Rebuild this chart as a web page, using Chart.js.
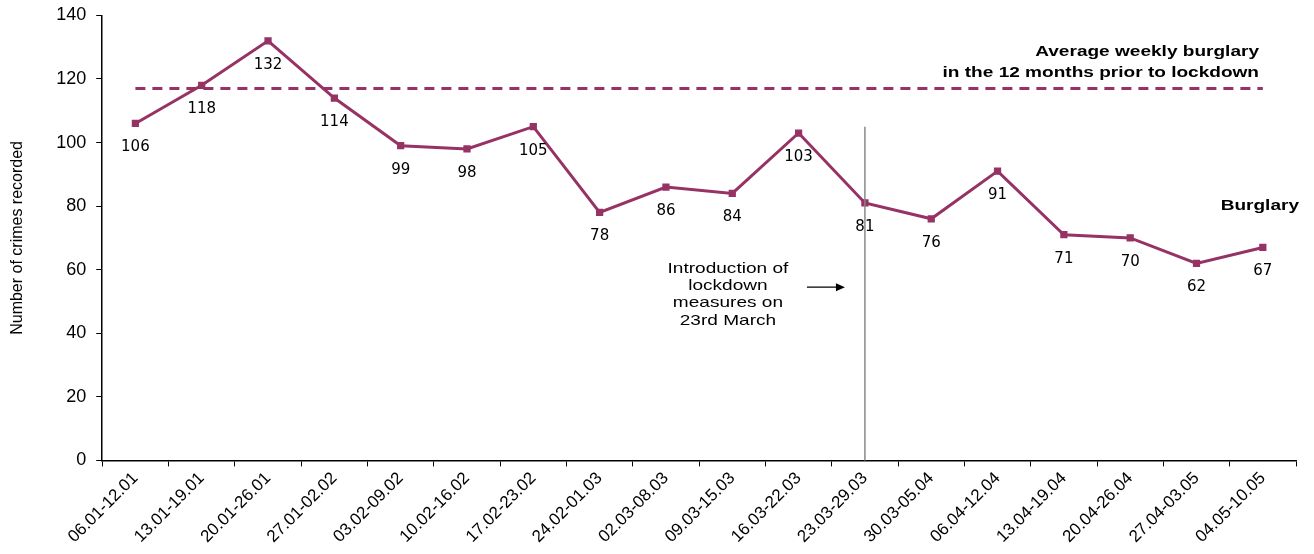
<!DOCTYPE html>
<html>
<head>
<meta charset="utf-8">
<script src="https://cdn.jsdelivr.net/npm/chart.js@4"></script>
<style>
  html, body { margin: 0; padding: 0; background: #fff; }
  #wrap { width: 1314px; height: 554px; }
</style>
</head>
<body>
<div id="wrap"><canvas id="canvas" width="1314" height="554"></canvas></div>
<script>
// weekly burglary counts
var weeks = ['06.01-12.01', '13.01-19.01', '20.01-26.01', '27.01-02.02', '03.02-09.02',
  '10.02-16.02', '17.02-23.02', '24.02-01.03', '02.03-08.03', '09.03-15.03',
  '16.03-22.03', '23.03-29.03', '30.03-05.04', '06.04-12.04', '13.04-19.04',
  '20.04-26.04', '27.04-03.05', '04.05-10.05'];
var burglary = [106, 118, 132, 114, 99, 98, 105, 78, 86, 84, 103, 81, 76, 91, 71, 70, 62, 67];
var average = 117;
var lockdownWeek = '23.03-29.03';
var yTicks = [0, 20, 40, 60, 80, 100, 120, 140];

var maroon = '#963264';
var font = 'Liberation Sans, Arial, sans-serif';

var avgLine = weeks.map(function () { return average; });

// text a bit stretched sideways like the original
function wideText(ctx, t, x, y, align) {
  var sx = 1.27;
  ctx.save();
  ctx.translate(x, y);
  ctx.scale(sx, 1);
  ctx.textAlign = align;
  ctx.fillText(t, 0, 0);
  ctx.restore();
}

// draws the value labels, the lockdown marker and the text notes
var extras = {
  id: 'extras',
  afterDatasetsDraw: function (chart) {
    var ctx = chart.ctx;
    var x = chart.scales.x;
    var y = chart.scales.y;
    var meta = chart.getDatasetMeta(1);

    ctx.save();
    // lockdown line
    var lx = x.getPixelForValue(weeks.indexOf(lockdownWeek));
    ctx.strokeStyle = '#888';
    ctx.lineWidth = 1.5;
    ctx.beginPath();
    ctx.moveTo(lx, y.getPixelForValue(105));
    ctx.lineTo(lx, y.getPixelForValue(0));
    ctx.stroke();

    // value labels under points
    ctx.fillStyle = '#000';
    ctx.font = '15px "DejaVu Sans", sans-serif';
    ctx.textAlign = 'center';
    ctx.textBaseline = 'middle';
    meta.data.forEach(function (pt, i) {
      ctx.fillText(burglary[i], pt.x, pt.y + 24);
    });

    // note on lockdown
    ctx.font = '15px ' + font;
    var lines = ['Introduction of', 'lockdown', 'measures on', '23rd March'];
    var ny = y.getPixelForValue(60) - 1;
    lines.forEach(function (t, i) {
      wideText(ctx, t, lx - 137, ny + i * 17.3, 'center');
    });
    var ay = y.getPixelForValue(54.5);
    ctx.strokeStyle = '#000';
    ctx.lineWidth = 1.2;
    ctx.beginPath();
    ctx.moveTo(lx - 58, ay);
    ctx.lineTo(lx - 26, ay);
    ctx.stroke();
    ctx.beginPath();
    ctx.moveTo(lx - 20, ay);
    ctx.lineTo(lx - 29, ay - 4);
    ctx.lineTo(lx - 29, ay + 4);
    ctx.closePath();
    ctx.fill();

    // series names
    ctx.font = 'bold 15px ' + font;
    wideText(ctx, 'Average weekly burglary', 1259, 52, 'right');
    wideText(ctx, 'in the 12 months prior to lockdown', 1259, 73, 'right');
    wideText(ctx, 'Burglary', 1299, 206, 'right');
    ctx.restore();
  }
};

var ctx = document.getElementById('canvas').getContext('2d');
var myChart = new Chart(ctx, {
  type: 'line',
  data: {
    labels: weeks,
    datasets: [
      {
        label: 'Average weekly burglary in the 12 months prior to lockdown',
        data: avgLine,
        borderColor: maroon,
        borderWidth: 3,
        borderDash: [10, 7],
        pointRadius: 0,
        fill: false,
        tension: 0
      },
      {
        label: 'Burglary',
        data: burglary,
        borderColor: maroon,
        backgroundColor: maroon,
        borderWidth: 3,
        pointStyle: 'rect',
        pointRadius: 3,
        fill: false,
        tension: 0
      }
    ]
  },
  options: {
    responsive: false,
    animation: false,
    maintainAspectRatio: false,
    layout: { padding: { top: 0, right: 18, left: 8, bottom: 5 } },
    plugins: {
      legend: { display: false },
      tooltip: { enabled: false }
    },
    scales: {
      x: {
        offset: true,
        grid: {
          offset: true,
          drawOnChartArea: false,
          drawTicks: true,
          tickLength: 6,
          color: '#000'
        },
        border: { display: true, color: '#000', width: 1.5 },
        ticks: {
          color: '#000',
          minRotation: 45,
          maxRotation: 45,
          autoSkip: false,
          padding: 2,
          font: { family: font, size: 17 }
        }
      },
      y: {
        min: 0,
        max: 140,
        afterBuildTicks: function (axis) {
          axis.ticks = yTicks.map(function (v) { return { value: v }; });
        },
        grid: {
          drawOnChartArea: false,
          drawTicks: true,
          tickLength: 6,
          color: '#000'
        },
        border: { display: true, color: '#000', width: 1.5 },
        ticks: {
          color: '#000',
          padding: 10,
          font: { family: font, size: 18, lineHeight: 0.6 }
        },
        title: {
          display: true,
          text: 'Number of crimes recorded',
          color: '#000',
          padding: { top: 0, bottom: 19 },
          font: { family: font, size: 16 }
        }
      }
    }
  },
  plugins: [extras]
});
</script>
</body>
</html>
